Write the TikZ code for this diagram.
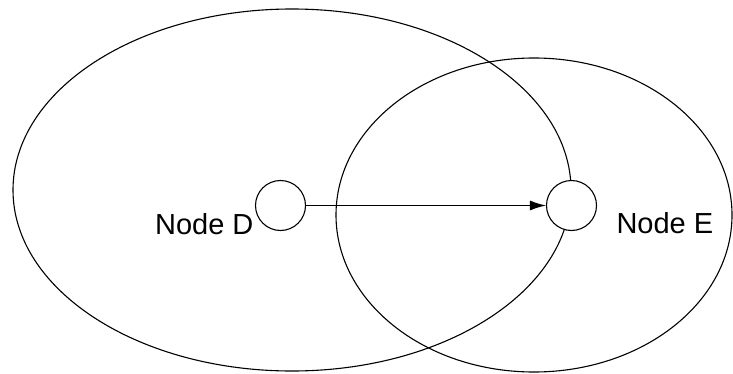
\documentclass[tikz,border=0pt]{standalone}
\usepackage{fontspec}
\setmainfont{Liberation Sans}
\usetikzlibrary{arrows.meta}

\begin{document}
\begin{tikzpicture}[x=1pt, y=1pt, line width=1.1pt,
    site/.style={circle, draw, fill=white, minimum size=50pt, inner sep=0pt},
    lbl/.style={font=\fontsize{29}{30}\selectfont, inner sep=0pt}]
    \useasboundingbox (0,0) rectangle (733,373);

    % Draw ranges
    \draw (292,183) ellipse [x radius=279, y radius=181];
    \draw (534,158) ellipse [x radius=198, y radius=157];

    % Draw nodes
    \node[site] (D) at (280.5,167.5) {};
    \node[site] (E) at (571.5,167.5) {};

    % Draw connection
    \draw[-{Latex[length=16pt, width=10pt]}] (D) -- (E);

    % Labels
    \node[lbl, anchor=base east] (labD) at (254,139) {Node D};
    \node[lbl, anchor=base west] (labE) at (616,140) {Node E};
\end{tikzpicture}
\end{document}
